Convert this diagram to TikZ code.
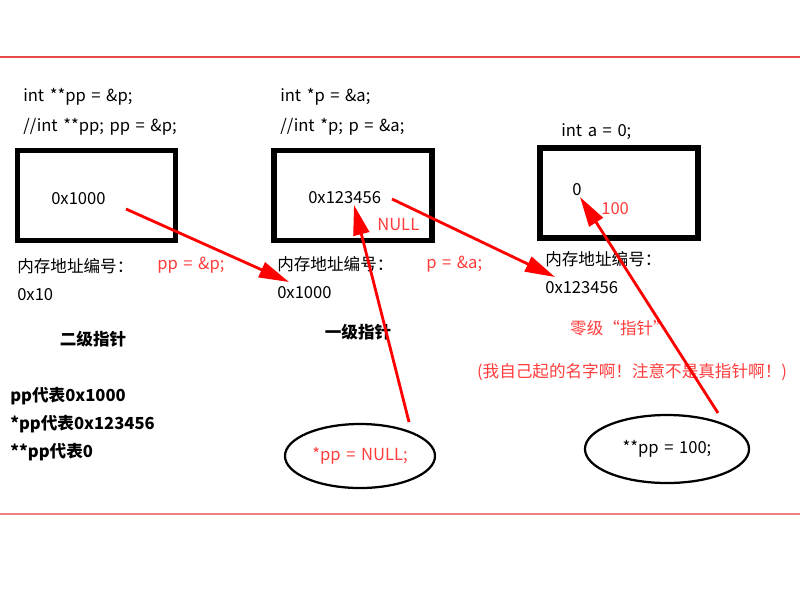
\documentclass[tikz,border=0pt]{standalone}
\usepackage{fontspec}
\setmainfont[WordSpace=1.5]{Noto Sans CJK SC}
\usetikzlibrary{positioning,shapes.geometric,arrows.meta,calc}
\definecolor{cnred}{HTML}{FF3C3C}
\definecolor{rulered}{HTML}{E84A4A}
\definecolor{rulepink}{HTML}{F08080}
\tikzset{
  membox/.style ={rectangle, draw=black, line width=4pt,
                  minimum width=3.95cm, minimum height=2.25cm, inner sep=0pt},
  code/.style   ={anchor=west, inner sep=0pt, font=\fontsize{11.8}{13}\selectfont},
  codered/.style={code, text=cnred},
  lvl/.style    ={inner sep=0pt, font=\fontsize{11.8}{13}\selectfont\bfseries},
  bubble/.style ={ellipse, draw=black, line width=1.6pt, inner sep=0pt,
                  font=\fontsize{11.8}{13}\selectfont},
  ptr/.style    ={-{Triangle[length=7.5mm,width=4mm]}, draw=red, line width=2pt}
}
\begin{document}
\begin{tikzpicture}[x=0.025cm,y=-0.025cm]
  \useasboundingbox (0,0) rectangle (800,600);
  \draw[rulered,line width=1.4pt] (0,57) -- (800,57);
  \draw[rulepink,line width=1.4pt] (0,514) -- (800,514);

  % second-level pointer pp
  \node[code] (decl1) at (23,97) {int **pp = \&p;};
  \node[code] (decl1b) at (23,127) {//int **pp; pp = \&p;};
  \node[membox] (box1) at (96.5,195.5) {};
  \node[code] (val1) at (51,199) {0x1000};
  \node[code] (addrlbl1) at (17,266) {内存地址编号：};
  \node[codered] (assign1) at (157,265) {pp = \&p;};
  \node[code] (addr1) at (17,295) {0x10};
  \node[lvl] (lvl1) at (93,339) {二级指针};

  % first-level pointer p
  \node[code] (decl2) at (280,97) {int *p = \&a;};
  \node[code] (decl2b) at (280,127) {//int *p; p = \&a;};
  \node[membox] (box2) at (353,195.5) {};
  \node[code] (val2) at (308,198) {0x123456};
  \node[codered] (null2) at (377,225) {NULL};
  \node[code] (addrlbl2) at (277,264) {内存地址编号：};
  \node[codered] (assign2) at (426,264) {p = \&a;};
  \node[code] (addr2) at (277,293) {0x1000};
  \node[lvl] (lvl2) at (358,332) {一级指针};

  % variable a
  \node[code] (decl3) at (561,132) {int a = 0;};
  \node[membox] (box3) at (619,193) {};
  \node[code] (val3) at (572,190) {0};
  \node[codered] (hundred3) at (601,209) {100};
  \node[code] (addrlbl3) at (545,259) {内存地址编号：};
  \node[code] (addr3) at (545,288) {0x123456};
  \node[lvl,text=cnred,font=\fontsize{11.8}{13}\selectfont] (lvl3) at (620,328) {零级“指针”};
  \node[codered,anchor=center] (note3) at (632,372) {(我自己起的名字啊！注意不是真指针啊！)};

  % summary
  \node[lvl,anchor=west] (sum1) at (10,396) {pp代表0x1000};
  \node[lvl,anchor=west] (sum2) at (10,424) {*pp代表0x123456};
  \node[lvl,anchor=west] (sum3) at (10,452) {**pp代表0};

  \node[bubble,text=cnred,minimum width=3.75cm,minimum height=1.6cm] (deref1) at (360,456) {*pp = NULL;};
  \node[bubble,minimum width=4.1cm,minimum height=1.7cm] (deref2) at (667,449) {**pp = 100;};

  \coordinate (t1) at (126,209);  \coordinate (h1) at (289,282);
  \coordinate (t2) at (392,199);  \coordinate (h2) at (555,277);
  \coordinate (t3) at (409,422);  \coordinate (h3) at (354,205);
  \coordinate (t4) at (718,413);  \coordinate (h4) at (580,197);
  \draw[ptr] (t1) -- (h1);
  \draw[ptr] (t2) -- (h2);
  \draw[ptr] (t3) -- (h3);
  \draw[ptr] (t4) -- (h4);
\end{tikzpicture}
\end{document}
